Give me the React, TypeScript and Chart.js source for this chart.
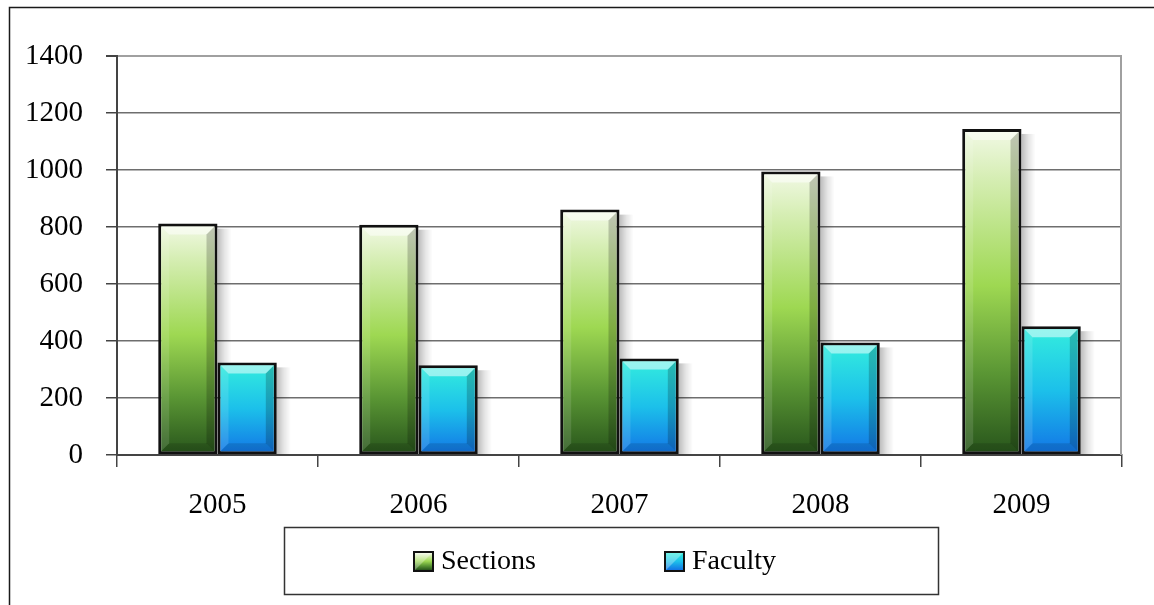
import React, { useEffect, useRef } from "react";
import { Chart, registerables } from "chart.js";

Chart.register(...registerables);

const categories = ["2005", "2006", "2007", "2008", "2009"];
const sectionsValues = [812, 808, 861, 995, 1144];
const facultyValues = [325, 315, 339, 395, 452];
const yTicks = [0, 200, 400, 600, 800, 1000, 1200, 1400];
const seriesLabels = ["Sections", "Faculty"];

const FONT = "'Liberation Serif', 'Times New Roman', serif";

const sectionsStops: [number, string][] = [
  [0, "#f2f9e6"],
  [0.15, "#d6eeb4"],
  [0.48, "#9ed852"],
  [0.75, "#5a9634"],
  [1, "#27541b"],
];
const facultyStops: [number, string][] = [
  [0, "#34eede"],
  [0.5, "#1cc0ea"],
  [1, "#1274e6"],
];

function makeGradient(c: CanvasRenderingContext2D, top: number, bottom: number, stops: [number, string][]) {
  const g = c.createLinearGradient(0, top, 0, bottom);
  stops.forEach(([o, col]) => g.addColorStop(o, col));
  return g;
}

function barFill(stops: [number, string][]) {
  return (ctx: any) => {
    const chart = ctx.chart;
    const y = chart.scales && chart.scales.y;
    if (!y || ctx.type !== "data") return stops[Math.floor(stops.length / 2)][1];
    const top = y.getPixelForValue(ctx.raw as number);
    const bottom = y.getPixelForValue(0);
    if (!isFinite(top) || !isFinite(bottom) || top === bottom) return stops[0][1];
    return makeGradient(chart.ctx, top, bottom, stops);
  };
}

const decorPlugin = {
  id: "decor",
  beforeDatasetsDraw(chart: any) {
    const c: CanvasRenderingContext2D = chart.ctx;
    c.save();
    chart.data.datasets.forEach((_: any, i: number) => {
      const meta = chart.getDatasetMeta(i);
      meta.data.forEach((el: any) => {
        const p = el.getProps(["x", "y", "base", "width"], true);
        const r = p.x + p.width / 2;
        const w = 14;
        const g = c.createLinearGradient(r, 0, r + w, 0);
        g.addColorStop(0, "rgba(0,0,0,0.26)");
        g.addColorStop(0.5, "rgba(0,0,0,0.10)");
        g.addColorStop(1, "rgba(0,0,0,0)");
        c.fillStyle = g;
        c.fillRect(r, p.y + 5, w, p.base - p.y - 5);
      });
    });
    c.restore();
  },
  afterDatasetsDraw(chart: any) {
    const c: CanvasRenderingContext2D = chart.ctx;
    c.save();
    chart.data.datasets.forEach((_: any, i: number) => {
      const meta = chart.getDatasetMeta(i);
      meta.data.forEach((el: any) => {
        const p = el.getProps(["x", "y", "base", "width"], true);
        const bw = 3;
        const l = p.x - p.width / 2 + bw;
        const r = p.x + p.width / 2 - bw;
        const t = p.y + bw;
        const b = p.base - bw;
        const bv = 8;
        const quad = (pts: number[][], col: string) => {
          c.beginPath();
          c.moveTo(pts[0][0], pts[0][1]);
          for (let k = 1; k < pts.length; k++) c.lineTo(pts[k][0], pts[k][1]);
          c.closePath();
          c.fillStyle = col;
          c.fill();
        };
        quad([[l, t], [r, t], [r - bv, t + bv], [l + bv, t + bv]], "rgba(255,255,255,0.5)");
        quad([[l, t], [l + bv, t + bv], [l + bv, b - bv], [l, b]], "rgba(255,255,255,0.12)");
        quad([[r, t], [r, b], [r - bv, b - bv], [r - bv, t + bv]], "rgba(0,0,0,0.2)");
        quad([[l, b], [l + bv, b - bv], [r - bv, b - bv], [r, b]], "rgba(0,0,0,0.12)");
      });
    });
    c.restore();
  },
  afterDraw(chart: any) {
    const c: CanvasRenderingContext2D = chart.ctx;
    const a = chart.chartArea;
    c.save();
    c.strokeStyle = "#a0a0a0";
    c.lineWidth = 2;
    c.beginPath();
    c.moveTo(a.right - 1, a.top);
    c.lineTo(a.right - 1, a.bottom);
    c.stroke();
    c.strokeStyle = "#1a1a1a";
    c.lineWidth = 1.5;
    c.beginPath();
    c.moveTo(9.5, chart.height);
    c.lineTo(9.5, 7.5);
    c.lineTo(chart.width, 7.5);
    c.stroke();
    c.strokeStyle = "#333333";
    c.lineWidth = 1.5;
    c.strokeRect(284.5, 527.5, 654, 67);
    const stopsList = [sectionsStops, facultyStops];
    const itemX = [413, 664];
    c.font = `28px ${FONT}`;
    c.textBaseline = "alphabetic";
    c.textAlign = "left";
    chart.data.datasets.forEach((ds: any, i: number) => {
      const x = itemX[i];
      const y = 551;
      const s = 21;
      c.fillStyle = "#111";
      c.fillRect(x, y, s, s);
      c.fillStyle = makeGradient(c, y + 2, y + s - 2, stopsList[i]);
      c.fillRect(x + 2, y + 2, s - 4, s - 4);
      c.fillStyle = "rgba(255,255,255,0.3)";
      c.beginPath();
      c.moveTo(x + 2, y + 2);
      c.lineTo(x + s - 2, y + 2);
      c.lineTo(x + 2, y + s - 2);
      c.closePath();
      c.fill();
      c.fillStyle = "#000";
      c.fillText(ds.label, x + s + 7, 569);
    });
    c.restore();
  },
};

export default function App() {
  const ref = useRef<HTMLCanvasElement | null>(null);
  useEffect(() => {
    document.body.style.margin = "0";
    if (!ref.current) return;
    const chart = new Chart(ref.current, {
      type: "bar",
      data: {
        labels: categories,
        datasets: [
          {
            label: seriesLabels[0],
            data: sectionsValues,
            backgroundColor: barFill(sectionsStops),
            borderColor: "#111111",
            borderWidth: 3,
            borderSkipped: false,
          },
          {
            label: seriesLabels[1],
            data: facultyValues,
            backgroundColor: barFill(facultyStops),
            borderColor: "#111111",
            borderWidth: 3,
            borderSkipped: false,
          },
        ],
      },
      options: {
        responsive: false,
        animation: false,
        layout: { padding: { top: 56, right: 32, left: 0, bottom: 0 } },
        datasets: { bar: { categoryPercentage: 0.59, barPercentage: 1.0 } },
        plugins: { legend: { display: false }, tooltip: { enabled: false } },
        scales: {
          x: {
            grid: { drawOnChartArea: false, drawTicks: true, tickLength: 12, color: "#444", lineWidth: 1.5 },
            border: { color: "#444", width: 2 },
            ticks: { color: "#000", font: { family: FONT, size: 29 }, padding: 21 },
            afterFit: (s: any) => {
              s.height = 150;
            },
          },
          y: {
            min: 0,
            max: 1400,
            afterBuildTicks: (s: any) => {
              s.ticks = yTicks.map((v) => ({ value: v }));
            },
            grid: {
              color: (ctx: any) => (ctx.tick && ctx.tick.value === 1400 ? "#a0a0a0" : "#6e6e6e"),
              lineWidth: (ctx: any) => (ctx.tick && ctx.tick.value === 1400 ? 2 : 1.5),
              tickLength: 11,
              tickColor: "#444",
            },
            border: { color: "#444", width: 2 },
            ticks: {
              color: "#000",
              font: { family: FONT, size: 29 },
              padding: 23,
              callback: (v: any) => String(v),
            },
            afterFit: (s: any) => {
              s.width = 117;
            },
          },
        },
      },
      plugins: [decorPlugin],
    } as any);
    return () => chart.destroy();
  }, []);
  return (
    <div style={{ width: 1154, height: 605, position: "relative" }}>
      <canvas ref={ref} width={1154} height={605} style={{ display: "block" }} />
    </div>
  );
}
